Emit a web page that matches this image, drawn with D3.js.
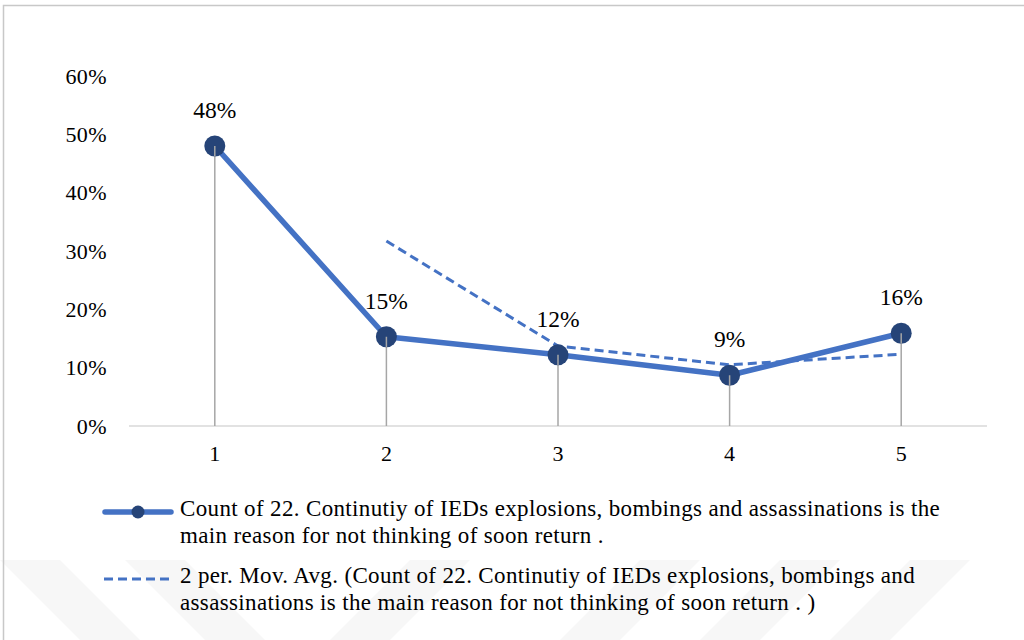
<!DOCTYPE html>
<html><head><meta charset="utf-8"><script src="https://cdn.jsdelivr.net/npm/d3@7"></script></head>
<body style="margin:0">
<svg id="chart" width="1024" height="640"></svg>
<script>
// Categories on the x axis
const categories = ["1", "2", "3", "4", "5"];
// Share of responses per category (percent)
const shareValues = [48.0, 15.3, 12.2, 8.7, 15.9];
// 2-period moving average trendline (percent), starting at category 2
const movAvgCategories = ["2", "3", "4", "5"];
const movAvgValues = [31.7, 13.7, 10.5, 12.3];
// Y axis ticks (percent)
const yTicks = [0, 10, 20, 30, 40, 50, 60];
// Legend entries
const legendMain = [
  "Count of 22. Continutiy of IEDs explosions, bombings and assassinations is the",
  "main reason for not thinking of soon return ."
];
const legendAvg = [
  "2 per. Mov. Avg. (Count of 22. Continutiy of IEDs explosions, bombings and",
  "assassinations is the main reason for not thinking of soon return . )"
];

const svg = d3.select("#chart");
const blue = "#4472C4", darkBlue = "#264478";

// text helper: plain serif text anchored at (x, y)
function label(sel, opts) {
  sel.attr("x", opts.x).attr("y", opts.y)
    .attr("font-size", opts.size)
    .attr("fill", "#000")
    .style("font-family", "'Liberation Serif'")
    .text(opts.text);
  if (opts.anchor) sel.attr("text-anchor", opts.anchor);
  if (opts.spacing) sel.style("letter-spacing", opts.spacing + "px");
  return sel;
}

// faint background watermark bands
const wm = svg.append("g").attr("fill", "#f7f7f7");
[
  [[0, 560], [60, 560], [140, 640], [80, 640]],
  [[125, 560], [185, 560], [265, 640], [205, 640]],
  [[330, 640], [390, 640], [470, 560], [410, 560]],
  [[560, 640], [620, 640], [700, 560], [640, 560]],
  [[700, 640], [760, 640], [840, 560], [780, 560]],
  [[830, 640], [890, 640], [970, 560], [910, 560]]
].forEach(p => wm.append("polygon").attr("points", p.map(q => q.join(",")).join(" ")));

// outer frame
svg.append("rect").attr("x", 3.5).attr("y", 5.5).attr("width", 1040).attr("height", 700)
  .attr("fill", "none").attr("stroke", "#c8c8c8").attr("stroke-width", 1.5);

const x = d3.scalePoint().domain(categories).range([129, 987]).padding(0.5);
const y = d3.scaleLinear().domain([0, 60]).range([426, 76]);

// y tick labels
label(svg.append("g").selectAll("text").data(yTicks).join("text"), {
  x: 107, y: d => y(d) + 7.5, size: 22, anchor: "end", spacing: 0.4, text: d => d + "%"
});

// baseline
svg.append("line").attr("x1", 129).attr("x2", 987).attr("y1", y(0)).attr("y2", y(0))
  .attr("stroke", "#d9d9d9").attr("stroke-width", 1.5);

// x tick labels
label(svg.append("g").selectAll("text").data(categories).join("text"), {
  x: d => x(d), y: 461, size: 22, anchor: "middle", text: d => d
});

const pts = categories.map((c, i) => ({ c, v: shareValues[i] }));

// drop lines
svg.append("g").selectAll("line").data(pts).join("line")
  .attr("x1", d => x(d.c)).attr("x2", d => x(d.c))
  .attr("y1", d => y(d.v)).attr("y2", y(0))
  .attr("stroke", "#a6a6a6").attr("stroke-width", 1.5);

// main series line
svg.append("path").datum(pts)
  .attr("fill", "none").attr("stroke", blue).attr("stroke-width", 5.5)
  .attr("stroke-linejoin", "round")
  .attr("d", d3.line().x(d => x(d.c)).y(d => y(d.v)));

// moving average trendline
const avgPts = movAvgCategories.map((c, i) => ({ c, v: movAvgValues[i] }));
svg.append("path").datum(avgPts)
  .attr("fill", "none").attr("stroke", blue).attr("stroke-width", 3)
  .attr("stroke-dasharray", "9,5")
  .attr("d", d3.line().x(d => x(d.c)).y(d => y(d.v)));

// markers
svg.append("g").selectAll("circle").data(pts).join("circle")
  .attr("cx", d => x(d.c)).attr("cy", d => y(d.v)).attr("r", 10.5)
  .attr("fill", darkBlue);
// drop lines show through the markers
svg.append("g").selectAll("line").data(pts).join("line")
  .attr("x1", d => x(d.c)).attr("x2", d => x(d.c))
  .attr("y1", d => y(d.v)).attr("y2", d => y(d.v) + 10.5)
  .attr("stroke", "#a6a6a6").attr("stroke-width", 1.5);

// data labels
const fmt = d3.format(".0%");
label(svg.append("g").selectAll("text").data(pts).join("text"), {
  x: d => x(d.c), y: d => y(d.v) - 28, size: 23.5, anchor: "middle", text: d => fmt(d.v / 100)
});

// legend
const lg = svg.append("g");
lg.append("line").attr("x1", 105).attr("x2", 171).attr("y1", 512).attr("y2", 512)
  .attr("stroke", blue).attr("stroke-width", 5.5).attr("stroke-linecap", "round");
lg.append("circle").attr("cx", 138).attr("cy", 512).attr("r", 6.5).attr("fill", darkBlue);
lg.append("line").attr("x1", 104).attr("x2", 173).attr("y1", 579).attr("y2", 579)
  .attr("stroke", blue).attr("stroke-width", 3).attr("stroke-dasharray", "9,5");

const legendText = (lines, y0) => {
  label(lg.append("g").selectAll("text").data(lines).join("text"), {
    x: 180, y: (d, i) => y0 + i * 27, size: 23, spacing: 0.35, text: d => d
  });
};
legendText(legendMain, 516);
legendText(legendAvg, 583);
</script>
</body></html>
